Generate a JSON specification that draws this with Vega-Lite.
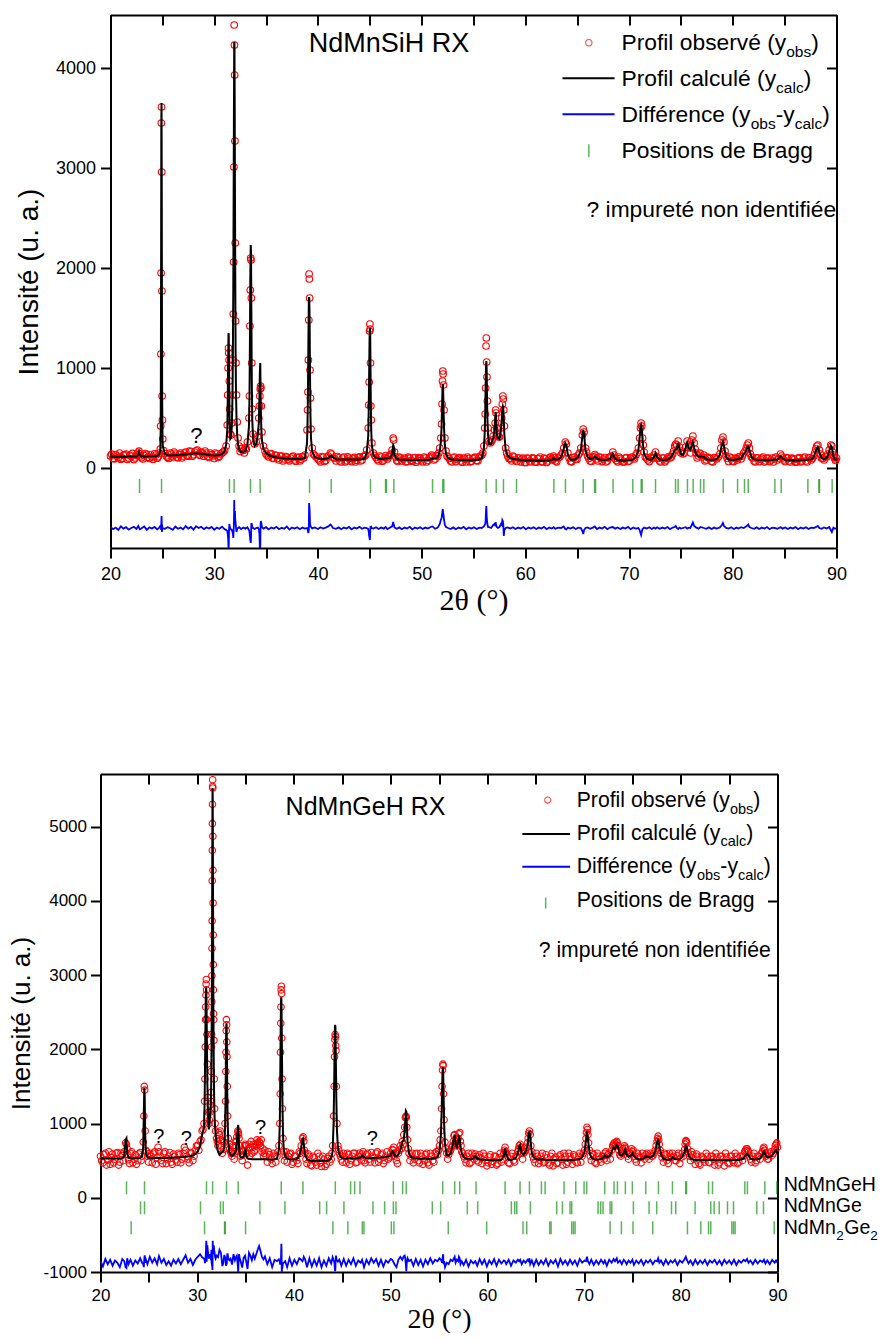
{
"$schema":"https://vega.github.io/schema/vega-lite/v6.json",
"padding":{"left":7.5,"top":14,"right":0,"bottom":0},
"config":{"view":{"stroke":null},"font":"Liberation Sans","axis":{"tickColor":"#000","domainColor":"#000","labelColor":"#000","titleColor":"#000","grid":false,"labelFont":"Liberation Sans","titleFontWeight":"normal","tickWidth":2,"domainWidth":2,"labelFlush":false,"labelOverlap":false}},
"columns":1,
"spacing":158,
"datasets":{
"pA":[
{"x":20,"o":120,"c":112,"d":-590},{"x":20.25,"o":95,"c":112,"d":-612},{"x":20.5,"o":135,"c":112,"d":-596},{"x":20.75,"o":104,"c":113,"d":-620},{"x":21,"o":88,"c":113,"d":-584},{"x":21.25,"o":128,"c":113,"d":-606},{"x":21.5,"o":140,"c":113,"d":-592},{"x":21.75,"o":99,"c":114,"d":-616},{"x":22,"o":117,"c":114,"d":-600},{"x":22.25,"o":84,"c":114,"d":-588},{"x":22.5,"o":131,"c":115,"d":-610},
{"x":22.68,"o":150,"c":130,"d":-580},{"x":22.75,"o":168,"c":158,"d":-596},{"x":22.82,"o":140,"c":130,"d":-612},
{"x":23,"o":102,"c":116,"d":-602},{"x":23.25,"o":125,"c":116,"d":-584},{"x":23.5,"o":137,"c":116,"d":-618},{"x":23.75,"o":96,"c":117,"d":-594},{"x":24,"o":112,"c":117,"d":-606},{"x":24.25,"o":142,"c":118,"d":-590},{"x":24.5,"o":98,"c":120,"d":-614},{"x":24.7,"o":150,"c":135,"d":-596},
{"x":24.8,"o":190,"c":170,"d":-580},{"x":24.84,"o":420,"c":380,"d":-600},{"x":24.86,"o":1140,"c":1000,"d":-590},{"x":24.88,"o":1950,"c":2100,"d":-620},{"x":24.9,"o":3450,"c":3400,"d":-560},{"x":24.92,"o":3610,"c":3650,"d":-480},{"x":24.94,"o":2960,"c":2900,"d":-530},{"x":24.96,"o":1770,"c":1600,"d":-640},{"x":24.98,"o":720,"c":700,"d":-600},{"x":25.01,"o":480,"c":330,"d":-590},{"x":25.04,"o":290,"c":220,"d":-604},
{"x":25.25,"o":145,"c":140,"d":-608},{"x":25.5,"o":108,"c":128,"d":-592},{"x":25.75,"o":150,"c":126,"d":-602},{"x":26,"o":112,"c":127,"d":-618},{"x":26.25,"o":139,"c":128,"d":-586},{"x":26.5,"o":102,"c":130,"d":-608},{"x":26.75,"o":148,"c":132,"d":-596},{"x":27,"o":121,"c":134,"d":-612},{"x":27.25,"o":160,"c":136,"d":-580},{"x":27.5,"o":118,"c":138,"d":-606},{"x":27.75,"o":165,"c":141,"d":-590},{"x":28,"o":132,"c":144,"d":-616},{"x":28.25,"o":172,"c":146,"d":-582},{"x":28.5,"o":140,"c":145,"d":-600},{"x":28.75,"o":158,"c":143,"d":-588},{"x":29,"o":118,"c":139,"d":-612},{"x":29.25,"o":150,"c":135,"d":-594},{"x":29.5,"o":105,"c":131,"d":-606},{"x":29.75,"o":133,"c":128,"d":-590},{"x":30,"o":95,"c":126,"d":-618},{"x":30.25,"o":140,"c":127,"d":-596},{"x":30.5,"o":118,"c":130,"d":-608},{"x":30.75,"o":150,"c":138,"d":-586},{"x":31,"o":175,"c":165,"d":-612},{"x":31.15,"o":220,"c":230,"d":-618},
{"x":31.26,"o":430,"c":380,"d":-630},{"x":31.3,"o":730,"c":650,"d":-660},{"x":31.34,"o":1000,"c":1050,"d":-700},{"x":31.38,"o":1200,"c":1350,"d":-800},{"x":31.4,"o":1150,"c":1330,"d":-790},{"x":31.43,"o":1080,"c":1000,"d":-620},{"x":31.46,"o":870,"c":650,"d":-560},{"x":31.49,"o":590,"c":450,"d":-580},{"x":31.55,"o":340,"c":290,"d":-600},{"x":31.62,"o":330,"c":300,"d":-616},{"x":31.7,"o":450,"c":420,"d":-620},{"x":31.76,"o":730,"c":700,"d":-640},{"x":31.8,"o":1080,"c":1150,"d":-660},{"x":31.84,"o":1540,"c":1800,"d":-700},{"x":31.87,"o":2060,"c":2600,"d":-640},{"x":31.9,"o":3010,"c":3500,"d":-560},{"x":31.93,"o":4430,"c":4260,"d":-320},{"x":31.95,"o":4230,"c":4250,"d":-480},{"x":31.97,"o":3930,"c":3800,"d":-460},{"x":32,"o":3270,"c":2800,"d":-430},{"x":32.03,"o":2250,"c":1900,"d":-520},{"x":32.06,"o":1470,"c":1200,"d":-540},{"x":32.1,"o":1050,"c":750,"d":-600},{"x":32.15,"o":730,"c":500,"d":-640},{"x":32.22,"o":460,"c":320,"d":-610},{"x":32.3,"o":300,"c":230,"d":-600},{"x":32.4,"o":220,"c":185,"d":-592},{"x":32.6,"o":190,"c":160,"d":-610},{"x":32.8,"o":175,"c":158,"d":-596},{"x":33,"o":200,"c":170,"d":-606},{"x":33.2,"o":260,"c":230,"d":-592},
{"x":33.35,"o":500,"c":420,"d":-620},{"x":33.4,"o":720,"c":700,"d":-640},{"x":33.44,"o":1420,"c":1200,"d":-680},{"x":33.48,"o":1780,"c":1900,"d":-720},{"x":33.52,"o":2100,"c":2230,"d":-750},{"x":33.55,"o":2080,"c":2150,"d":-700},{"x":33.58,"o":1700,"c":1600,"d":-560},{"x":33.62,"o":1050,"c":900,"d":-560},{"x":33.67,"o":590,"c":480,"d":-590},{"x":33.75,"o":340,"c":290,"d":-600},{"x":33.9,"o":240,"c":220,"d":-610},{"x":34.05,"o":260,"c":240,"d":-600},{"x":34.2,"o":320,"c":330,"d":-596},
{"x":34.3,"o":500,"c":450,"d":-610},{"x":34.36,"o":620,"c":700,"d":-660},{"x":34.4,"o":720,"c":950,"d":-800},{"x":34.44,"o":790,"c":1050,"d":-790},{"x":34.47,"o":820,"c":780,"d":-560},{"x":34.5,"o":800,"c":560,"d":-530},{"x":34.54,"o":620,"c":400,"d":-550},{"x":34.6,"o":360,"c":280,"d":-590},{"x":34.75,"o":220,"c":190,"d":-606},
{"x":35,"o":140,"c":150,"d":-592},{"x":35.25,"o":110,"c":130,"d":-614},{"x":35.5,"o":145,"c":120,"d":-596},{"x":35.75,"o":96,"c":112,"d":-606},{"x":36,"o":125,"c":106,"d":-588},{"x":36.25,"o":80,"c":102,"d":-612},{"x":36.5,"o":118,"c":99,"d":-598},{"x":36.75,"o":90,"c":96,"d":-608},{"x":37,"o":108,"c":94,"d":-586},{"x":37.25,"o":72,"c":92,"d":-616},{"x":37.5,"o":112,"c":91,"d":-596},{"x":37.75,"o":80,"c":90,"d":-606},{"x":38,"o":104,"c":90,"d":-592},{"x":38.25,"o":70,"c":90,"d":-612},{"x":38.5,"o":115,"c":92,"d":-596},{"x":38.75,"o":130,"c":102,"d":-606},
{"x":38.95,"o":380,"c":250,"d":-600},{"x":39,"o":580,"c":460,"d":-610},{"x":39.04,"o":760,"c":780,"d":-630},{"x":39.08,"o":1080,"c":1250,"d":-650},{"x":39.12,"o":1480,"c":1650,"d":-620},{"x":39.15,"o":1940,"c":1710,"d":-350},{"x":39.17,"o":1890,"c":1690,"d":-380},{"x":39.2,"o":1700,"c":1450,"d":-420},{"x":39.24,"o":980,"c":900,"d":-560},{"x":39.28,"o":700,"c":520,"d":-580},{"x":39.33,"o":390,"c":300,"d":-590},{"x":39.45,"o":200,"c":160,"d":-604},
{"x":39.7,"o":125,"c":110,"d":-594},{"x":40,"o":92,"c":96,"d":-610},{"x":40.25,"o":62,"c":92,"d":-592},{"x":40.5,"o":108,"c":90,"d":-606},{"x":40.75,"o":75,"c":92,"d":-596},{"x":41,"o":120,"c":98,"d":-584},{"x":41.2,"o":150,"c":118,"d":-565},{"x":41.3,"o":140,"c":122,"d":-575},{"x":41.45,"o":105,"c":105,"d":-600},{"x":41.75,"o":70,"c":88,"d":-608},{"x":42,"o":102,"c":86,"d":-594},{"x":42.25,"o":60,"c":85,"d":-612},{"x":42.5,"o":110,"c":85,"d":-596},{"x":42.75,"o":72,"c":84,"d":-606},{"x":43,"o":98,"c":84,"d":-590},{"x":43.25,"o":64,"c":84,"d":-614},{"x":43.5,"o":106,"c":84,"d":-596},{"x":43.75,"o":78,"c":85,"d":-606},{"x":44,"o":112,"c":86,"d":-588},{"x":44.25,"o":80,"c":88,"d":-608},{"x":44.5,"o":120,"c":96,"d":-596},{"x":44.7,"o":180,"c":150,"d":-600},
{"x":44.85,"o":400,"c":320,"d":-610},{"x":44.9,"o":630,"c":600,"d":-640},{"x":44.94,"o":860,"c":950,"d":-680},{"x":44.98,"o":1370,"c":1300,"d":-700},{"x":45.01,"o":1440,"c":1400,"d":-720},{"x":45.04,"o":1390,"c":1350,"d":-640},{"x":45.07,"o":1050,"c":1000,"d":-580},{"x":45.1,"o":620,"c":650,"d":-600},{"x":45.14,"o":480,"c":380,"d":-590},{"x":45.2,"o":250,"c":220,"d":-600},{"x":45.35,"o":150,"c":130,"d":-606},
{"x":45.6,"o":105,"c":100,"d":-592},{"x":45.85,"o":70,"c":92,"d":-610},{"x":46.1,"o":110,"c":90,"d":-596},{"x":46.35,"o":80,"c":92,"d":-606},{"x":46.52,"o":125,"c":100,"d":-590},{"x":46.7,"o":90,"c":95,"d":-612},{"x":46.95,"o":130,"c":100,"d":-596},{"x":47.15,"o":180,"c":140,"d":-585},{"x":47.26,"o":300,"c":230,"d":-540},{"x":47.3,"o":280,"c":220,"d":-560},{"x":47.38,"o":160,"c":130,"d":-595},{"x":47.6,"o":75,"c":90,"d":-608},{"x":47.85,"o":108,"c":85,"d":-594},{"x":48.1,"o":70,"c":83,"d":-612},{"x":48.35,"o":100,"c":82,"d":-596},{"x":48.6,"o":64,"c":82,"d":-606},{"x":48.85,"o":98,"c":81,"d":-588},{"x":49.1,"o":68,"c":81,"d":-614},{"x":49.35,"o":104,"c":81,"d":-596},{"x":49.6,"o":74,"c":80,"d":-606},{"x":49.85,"o":96,"c":80,"d":-592},{"x":50.1,"o":62,"c":80,"d":-610},{"x":50.35,"o":100,"c":80,"d":-596},{"x":50.6,"o":76,"c":81,"d":-606},{"x":50.85,"o":108,"c":85,"d":-590},{"x":51.05,"o":120,"c":95,"d":-584},{"x":51.3,"o":90,"c":95,"d":-608},{"x":51.55,"o":118,"c":110,"d":-596},{"x":51.75,"o":200,"c":170,"d":-560},
{"x":51.85,"o":300,"c":260,"d":-520},{"x":51.92,"o":440,"c":400,"d":-500},{"x":51.97,"o":640,"c":620,"d":-470},{"x":52.01,"o":870,"c":790,"d":-430},{"x":52.04,"o":970,"c":840,"d":-410},{"x":52.07,"o":940,"c":800,"d":-440},{"x":52.11,"o":830,"c":600,"d":-470},{"x":52.16,"o":580,"c":400,"d":-520},{"x":52.24,"o":300,"c":230,"d":-570},{"x":52.35,"o":170,"c":140,"d":-590},
{"x":52.55,"o":110,"c":100,"d":-600},{"x":52.8,"o":70,"c":88,"d":-610},{"x":53.05,"o":102,"c":84,"d":-594},{"x":53.3,"o":64,"c":82,"d":-612},{"x":53.55,"o":98,"c":80,"d":-596},{"x":53.8,"o":70,"c":79,"d":-606},{"x":54.05,"o":100,"c":78,"d":-588},{"x":54.3,"o":60,"c":78,"d":-614},{"x":54.55,"o":96,"c":78,"d":-596},{"x":54.8,"o":68,"c":78,"d":-606},{"x":55.05,"o":102,"c":79,"d":-592},{"x":55.3,"o":74,"c":80,"d":-610},{"x":55.55,"o":108,"c":84,"d":-596},{"x":55.8,"o":130,"c":100,"d":-600},{"x":56,"o":220,"c":190,"d":-585},
{"x":56.08,"o":400,"c":350,"d":-570},{"x":56.13,"o":540,"c":560,"d":-560},{"x":56.17,"o":800,"c":820,"d":-520},{"x":56.21,"o":1220,"c":1030,"d":-420},{"x":56.24,"o":1300,"c":1070,"d":-380},{"x":56.27,"o":1060,"c":980,"d":-480},{"x":56.3,"o":910,"c":720,"d":-520},{"x":56.34,"o":670,"c":500,"d":-560},{"x":56.4,"o":400,"c":330,"d":-590},{"x":56.5,"o":270,"c":240,"d":-592},{"x":56.7,"o":260,"c":240,"d":-600},{"x":56.9,"o":320,"c":300,"d":-570},
{"x":57.03,"o":380,"c":380,"d":-560},{"x":57.09,"o":450,"c":500,"d":-580},{"x":57.14,"o":580,"c":560,"d":-540},{"x":57.18,"o":550,"c":500,"d":-570},{"x":57.24,"o":400,"c":350,"d":-590},{"x":57.35,"o":330,"c":300,"d":-600},{"x":57.5,"o":310,"c":290,"d":-590},{"x":57.65,"o":400,"c":380,"d":-560},
{"x":57.72,"o":500,"c":480,"d":-570},{"x":57.78,"o":640,"c":590,"d":-520},{"x":57.83,"o":720,"c":620,"d":-530},{"x":57.87,"o":690,"c":610,"d":-560},{"x":57.92,"o":580,"c":480,"d":-680},{"x":57.98,"o":420,"c":330,"d":-620},{"x":58.1,"o":200,"c":180,"d":-600},
{"x":58.3,"o":120,"c":120,"d":-594},{"x":58.55,"o":92,"c":100,"d":-606},{"x":58.8,"o":118,"c":92,"d":-592},{"x":59.05,"o":80,"c":88,"d":-610},{"x":59.3,"o":100,"c":84,"d":-596},{"x":59.55,"o":62,"c":80,"d":-606},{"x":59.8,"o":98,"c":78,"d":-590},{"x":60.05,"o":56,"c":76,"d":-612},{"x":60.3,"o":94,"c":75,"d":-596},{"x":60.55,"o":60,"c":74,"d":-606},{"x":60.8,"o":96,"c":74,"d":-592},{"x":61.05,"o":58,"c":73,"d":-610},{"x":61.3,"o":92,"c":73,"d":-596},{"x":61.55,"o":62,"c":73,"d":-606},{"x":61.8,"o":100,"c":73,"d":-588},{"x":62.05,"o":56,"c":74,"d":-612},{"x":62.3,"o":98,"c":76,"d":-596},{"x":62.55,"o":90,"c":80,"d":-606},{"x":62.72,"o":120,"c":100,"d":-592},{"x":62.9,"o":70,"c":82,"d":-608},{"x":63.15,"o":100,"c":85,"d":-596},{"x":63.45,"o":130,"c":110,"d":-600},{"x":63.7,"o":200,"c":190,"d":-585},{"x":63.85,"o":260,"c":250,"d":-610},{"x":63.95,"o":240,"c":230,"d":-615},{"x":64.1,"o":150,"c":130,"d":-596},{"x":64.35,"o":68,"c":85,"d":-606},{"x":64.6,"o":102,"c":80,"d":-592},{"x":64.85,"o":90,"c":90,"d":-610},{"x":65.1,"o":130,"c":110,"d":-596},{"x":65.35,"o":200,"c":180,"d":-600},{"x":65.5,"o":330,"c":320,"d":-630},{"x":65.58,"o":390,"c":380,"d":-660},{"x":65.66,"o":360,"c":340,"d":-620},{"x":65.8,"o":200,"c":180,"d":-600},{"x":66,"o":120,"c":110,"d":-594},{"x":66.25,"o":70,"c":90,"d":-608},{"x":66.5,"o":110,"c":95,"d":-596},{"x":66.7,"o":135,"c":115,"d":-584},{"x":66.9,"o":90,"c":95,"d":-610},{"x":67.15,"o":110,"c":85,"d":-596},{"x":67.4,"o":64,"c":80,"d":-606},{"x":67.65,"o":104,"c":80,"d":-588},{"x":67.9,"o":70,"c":82,"d":-612},{"x":68.15,"o":110,"c":90,"d":-596},{"x":68.43,"o":160,"c":140,"d":-590},{"x":68.65,"o":95,"c":90,"d":-606},{"x":68.9,"o":62,"c":78,"d":-594},{"x":69.15,"o":96,"c":76,"d":-610},{"x":69.4,"o":60,"c":75,"d":-596},{"x":69.65,"o":98,"c":76,"d":-606},{"x":69.9,"o":66,"c":78,"d":-588},{"x":70.15,"o":100,"c":80,"d":-612},{"x":70.4,"o":100,"c":88,"d":-596},{"x":70.65,"o":130,"c":110,"d":-606},{"x":70.9,"o":200,"c":180,"d":-600},{"x":71.02,"o":300,"c":310,"d":-620},{"x":71.1,"o":400,"c":410,"d":-650},{"x":71.16,"o":450,"c":430,"d":-670},{"x":71.22,"o":420,"c":400,"d":-640},{"x":71.3,"o":300,"c":280,"d":-610},{"x":71.45,"o":160,"c":140,"d":-596},{"x":71.7,"o":100,"c":95,"d":-606},{"x":71.95,"o":64,"c":82,"d":-592},{"x":72.2,"o":104,"c":85,"d":-610},{"x":72.4,"o":130,"c":110,"d":-596},{"x":72.55,"o":160,"c":150,"d":-606},{"x":72.7,"o":110,"c":110,"d":-594},{"x":72.95,"o":70,"c":84,"d":-608},{"x":73.2,"o":100,"c":80,"d":-596},{"x":73.45,"o":62,"c":80,"d":-606},{"x":73.7,"o":98,"c":85,"d":-590},{"x":73.95,"o":100,"c":100,"d":-612},{"x":74.2,"o":140,"c":130,"d":-596},{"x":74.4,"o":220,"c":180,"d":-590},{"x":74.5,"o":240,"c":185,"d":-580},{"x":74.6,"o":230,"c":190,"d":-600},{"x":74.73,"o":270,"c":250,"d":-610},{"x":74.85,"o":210,"c":200,"d":-596},{"x":75,"o":150,"c":140,"d":-606},{"x":75.2,"o":140,"c":130,"d":-600},{"x":75.45,"o":210,"c":200,"d":-592},{"x":75.6,"o":270,"c":255,"d":-606},{"x":75.75,"o":230,"c":200,"d":-596},{"x":75.9,"o":200,"c":180,"d":-600},{"x":76.05,"o":280,"c":230,"d":-570},{"x":76.15,"o":320,"c":260,"d":-545},{"x":76.28,"o":250,"c":200,"d":-580},{"x":76.45,"o":150,"c":140,"d":-594},{"x":76.7,"o":120,"c":110,"d":-606},{"x":76.9,"o":140,"c":115,"d":-590},{"x":77.2,"o":130,"c":110,"d":-600},{"x":77.45,"o":80,"c":88,"d":-608},{"x":77.7,"o":102,"c":82,"d":-594},{"x":77.95,"o":68,"c":80,"d":-610},{"x":78.2,"o":104,"c":82,"d":-596},{"x":78.45,"o":90,"c":90,"d":-606},{"x":78.75,"o":140,"c":130,"d":-596},{"x":78.95,"o":280,"c":240,"d":-570},{"x":79.05,"o":310,"c":265,"d":-550},{"x":79.15,"o":260,"c":220,"d":-580},{"x":79.35,"o":120,"c":110,"d":-600},{"x":79.6,"o":66,"c":84,"d":-606},{"x":79.85,"o":100,"c":80,"d":-592},{"x":80.1,"o":64,"c":80,"d":-610},{"x":80.35,"o":96,"c":84,"d":-596},{"x":80.55,"o":110,"c":95,"d":-606},{"x":80.8,"o":90,"c":95,"d":-592},{"x":81.05,"o":150,"c":140,"d":-600},{"x":81.2,"o":170,"c":155,"d":-590},{"x":81.4,"o":230,"c":205,"d":-575},{"x":81.5,"o":250,"c":215,"d":-565},{"x":81.6,"o":200,"c":180,"d":-590},{"x":81.8,"o":110,"c":110,"d":-600},{"x":82.05,"o":70,"c":86,"d":-608},{"x":82.3,"o":102,"c":82,"d":-594},{"x":82.55,"o":64,"c":80,"d":-610},{"x":82.8,"o":98,"c":79,"d":-596},{"x":83.05,"o":60,"c":78,"d":-606},{"x":83.3,"o":96,"c":78,"d":-590},{"x":83.55,"o":64,"c":78,"d":-612},{"x":83.8,"o":100,"c":80,"d":-596},{"x":84.05,"o":100,"c":86,"d":-600},{"x":84.3,"o":80,"c":84,"d":-608},{"x":84.6,"o":140,"c":120,"d":-592},{"x":84.8,"o":100,"c":95,"d":-606},{"x":85.05,"o":66,"c":80,"d":-594},{"x":85.3,"o":98,"c":78,"d":-610},{"x":85.55,"o":60,"c":77,"d":-596},{"x":85.8,"o":94,"c":76,"d":-606},{"x":86.05,"o":58,"c":76,"d":-590},{"x":86.3,"o":96,"c":76,"d":-612},{"x":86.55,"o":62,"c":77,"d":-596},{"x":86.8,"o":100,"c":78,"d":-606},{"x":87.05,"o":70,"c":80,"d":-592},{"x":87.3,"o":104,"c":86,"d":-610},{"x":87.55,"o":80,"c":88,"d":-596},{"x":87.8,"o":120,"c":105,"d":-600},{"x":88,"o":190,"c":170,"d":-592},{"x":88.2,"o":230,"c":210,"d":-580},{"x":88.35,"o":180,"c":160,"d":-600},{"x":88.55,"o":100,"c":100,"d":-608},{"x":88.8,"o":80,"c":88,"d":-594},{"x":89.05,"o":110,"c":100,"d":-606},{"x":89.3,"o":180,"c":170,"d":-590},{"x":89.45,"o":230,"c":225,"d":-620},{"x":89.55,"o":220,"c":210,"d":-640},{"x":89.7,"o":130,"c":120,"d":-596},{"x":89.85,"o":90,"c":85,"d":-608},{"x":90,"o":100,"c":80,"d":-600}
],
"qA":[{"x":20.12,"o":138},{"x":20.37,"o":92},{"x":20.62,"o":120},{"x":20.87,"o":150},{"x":21.12,"o":98},{"x":21.37,"o":132},{"x":21.62,"o":85},{"x":21.87,"o":125},{"x":22.12,"o":146},{"x":22.37,"o":100},{"x":22.6,"o":128},{"x":22.9,"o":120},{"x":23.12,"o":90},{"x":23.37,"o":145},{"x":23.62,"o":108},{"x":23.87,"o":135},{"x":24.12,"o":88},{"x":24.37,"o":130},{"x":24.6,"o":112},{"x":25.12,"o":175},{"x":25.37,"o":120},{"x":25.62,"o":95},{"x":25.87,"o":140},{"x":26.12,"o":160},{"x":26.37,"o":110},{"x":26.62,"o":135},{"x":26.87,"o":100},{"x":27.12,"o":150},{"x":27.37,"o":125},{"x":27.62,"o":170},{"x":27.87,"o":118},{"x":28.12,"o":160},{"x":28.37,"o":180},{"x":28.62,"o":128},{"x":28.87,"o":150},{"x":29.12,"o":170},{"x":29.37,"o":115},{"x":29.62,"o":150},{"x":29.87,"o":120},{"x":30.12,"o":150},{"x":30.37,"o":105},{"x":30.62,"o":140},{"x":30.87,"o":160},{"x":32.5,"o":165},{"x":32.7,"o":200},{"x":32.9,"o":150},{"x":33.1,"o":190},{"x":34.9,"o":170},{"x":35.12,"o":125},{"x":35.37,"o":140},{"x":35.62,"o":100},{"x":35.87,"o":130},{"x":36.12,"o":95},{"x":36.37,"o":120},{"x":36.62,"o":70},{"x":36.87,"o":115},{"x":37.12,"o":85},{"x":37.37,"o":100},{"x":37.62,"o":120},{"x":37.87,"o":68},{"x":38.12,"o":110},{"x":38.37,"o":85},{"x":38.62,"o":100},{"x":39.57,"o":140},{"x":39.85,"o":110},{"x":40.12,"o":80},{"x":40.37,"o":115},{"x":40.62,"o":65},{"x":40.87,"o":110},{"x":41.6,"o":95},{"x":41.87,"o":115},{"x":42.12,"o":70},{"x":42.37,"o":100},{"x":42.62,"o":60},{"x":42.87,"o":112},{"x":43.12,"o":80},{"x":43.37,"o":95},{"x":43.62,"o":60},{"x":43.87,"o":105},{"x":44.12,"o":70},{"x":44.37,"o":115},{"x":44.6,"o":130},{"x":45.47,"o":125},{"x":45.72,"o":85},{"x":45.97,"o":120},{"x":46.22,"o":68},{"x":46.45,"o":105},{"x":46.82,"o":112},{"x":47.05,"o":140},{"x":47.5,"o":110},{"x":47.72,"o":65},{"x":47.97,"o":100},{"x":48.22,"o":90},{"x":48.47,"o":60},{"x":48.72,"o":108},{"x":48.97,"o":75},{"x":49.22,"o":100},{"x":49.47,"o":58},{"x":49.72,"o":105},{"x":49.97,"o":80},{"x":50.22,"o":110},{"x":50.47,"o":60},{"x":50.72,"o":100},{"x":50.95,"o":130},{"x":51.17,"o":80},{"x":51.42,"o":125},{"x":51.65,"o":150},{"x":52.45,"o":120},{"x":52.67,"o":95},{"x":52.92,"o":60},{"x":53.17,"o":110},{"x":53.42,"o":85},{"x":53.67,"o":105},{"x":53.92,"o":58},{"x":54.17,"o":90},{"x":54.42,"o":110},{"x":54.67,"o":60},{"x":54.92,"o":95},{"x":55.17,"o":110},{"x":55.42,"o":70},{"x":55.67,"o":120},{"x":55.9,"o":150},{"x":56.6,"o":250},{"x":56.8,"o":280},{"x":57.42,"o":310},{"x":58.2,"o":150},{"x":58.42,"o":95},{"x":58.67,"o":70},{"x":58.92,"o":110},{"x":59.17,"o":65},{"x":59.42,"o":100},{"x":59.67,"o":90},{"x":59.92,"o":55},{"x":60.17,"o":100},{"x":60.42,"o":70},{"x":60.67,"o":102},{"x":60.92,"o":60},{"x":61.17,"o":95},{"x":61.42,"o":110},{"x":61.67,"o":62},{"x":61.92,"o":92},{"x":62.17,"o":70},{"x":62.42,"o":108},{"x":62.62,"o":80},{"x":62.8,"o":105},{"x":63.02,"o":62},{"x":63.3,"o":110},{"x":63.57,"o":150},{"x":64.22,"o":100},{"x":64.47,"o":62},{"x":64.72,"o":108},{"x":64.97,"o":85},{"x":65.22,"o":150},{"x":65.9,"o":160},{"x":66.12,"o":95},{"x":66.37,"o":65},{"x":66.6,"o":110},{"x":66.8,"o":120},{"x":67.02,"o":70},{"x":67.27,"o":105},{"x":67.52,"o":90},{"x":67.77,"o":60},{"x":68.02,"o":100},{"x":68.28,"o":120},{"x":68.55,"o":130},{"x":68.77,"o":75},{"x":69.02,"o":110},{"x":69.27,"o":80},{"x":69.52,"o":62},{"x":69.77,"o":105},{"x":70.02,"o":70},{"x":70.27,"o":110},{"x":70.52,"o":90},{"x":70.77,"o":150},{"x":71.37,"o":230},{"x":71.57,"o":110},{"x":71.82,"o":80},{"x":72.07,"o":110},{"x":72.3,"o":95},{"x":72.82,"o":95},{"x":73.07,"o":60},{"x":73.32,"o":100},{"x":73.57,"o":80},{"x":73.82,"o":115},{"x":74.07,"o":110},{"x":74.3,"o":170},{"x":75.1,"o":170},{"x":75.32,"o":150},{"x":75.95,"o":150},{"x":76.37,"o":190},{"x":76.57,"o":100},{"x":76.8,"o":150},{"x":77.05,"o":110},{"x":77.32,"o":70},{"x":77.57,"o":108},{"x":77.82,"o":95},{"x":78.07,"o":60},{"x":78.32,"o":100},{"x":78.6,"o":110},{"x":78.85,"o":200},{"x":79.25,"o":170},{"x":79.47,"o":95},{"x":79.72,"o":110},{"x":79.97,"o":70},{"x":80.22,"o":100},{"x":80.45,"o":80},{"x":80.67,"o":115},{"x":80.92,"o":120},{"x":81.3,"o":200},{"x":81.7,"o":140},{"x":81.92,"o":100},{"x":82.17,"o":62},{"x":82.42,"o":100},{"x":82.67,"o":85},{"x":82.92,"o":110},{"x":83.17,"o":70},{"x":83.42,"o":100},{"x":83.67,"o":80},{"x":83.92,"o":60},{"x":84.17,"o":110},{"x":84.45,"o":95},{"x":84.7,"o":120},{"x":84.92,"o":80},{"x":85.17,"o":105},{"x":85.42,"o":70},{"x":85.67,"o":100},{"x":85.92,"o":85},{"x":86.17,"o":62},{"x":86.42,"o":105},{"x":86.67,"o":70},{"x":86.92,"o":110},{"x":87.17,"o":60},{"x":87.42,"o":100},{"x":87.67,"o":95},{"x":87.9,"o":150},{"x":88.1,"o":220},{"x":88.45,"o":140},{"x":88.67,"o":95},{"x":88.92,"o":115},{"x":89.17,"o":140},{"x":89.62,"o":160},{"x":89.77,"o":110},{"x":89.92,"o":75}],
"tA":[{"x":22.8},{"x":24.92},{"x":31.47},{"x":31.92},{"x":33.5},{"x":34.43},{"x":39.19},{"x":41.28},{"x":45.07},{"x":46.52},{"x":46.6},{"x":47.32},{"x":51.05},{"x":52.04},{"x":52.14},{"x":56.22},{"x":57.19},{"x":57.89},{"x":59.15},{"x":62.75},{"x":63.87},{"x":65.58},{"x":66.67},{"x":66.77},{"x":68.46},{"x":70.36},{"x":71.17},{"x":71.26},{"x":72.55},{"x":74.48},{"x":74.73},{"x":75.63},{"x":76.18},{"x":76.89},{"x":77.21},{"x":79.08},{"x":80.46},{"x":81.13},{"x":81.49},{"x":84.06},{"x":84.67},{"x":87.24},{"x":88.3},{"x":88.36},{"x":89.58}],
"pB":[
{"x":20,"o":560,"c":530,"d":-855},{"x":20.25,"o":470,"c":530,"d":-925},{"x":20.5,"o":600,"c":530,"d":-825},{"x":20.75,"o":505,"c":530,"d":-895},{"x":21,"o":450,"c":530,"d":-835},{"x":21.25,"o":590,"c":530,"d":-915},{"x":21.5,"o":520,"c":530,"d":-845},{"x":21.75,"o":610,"c":530,"d":-875},{"x":22,"o":480,"c":530,"d":-935},{"x":22.25,"o":570,"c":532,"d":-825},{"x":22.45,"o":620,"c":560,"d":-855},{"x":22.6,"o":740,"c":780,"d":-935},{"x":22.68,"o":720,"c":800,"d":-945},{"x":22.76,"o":660,"c":600,"d":-815},{"x":22.9,"o":510,"c":540,"d":-895},{"x":23.1,"o":600,"c":532,"d":-835},{"x":23.35,"o":470,"c":532,"d":-915},{"x":23.6,"o":580,"c":533,"d":-845},{"x":23.85,"o":500,"c":533,"d":-885},{"x":24.1,"o":610,"c":535,"d":-815},{"x":24.3,"o":560,"c":560,"d":-875},{"x":24.42,"o":750,"c":700,"d":-895},{"x":24.48,"o":1100,"c":1150,"d":-935},{"x":24.53,"o":1500,"c":1480,"d":-815},{"x":24.57,"o":1450,"c":1380,"d":-775},{"x":24.62,"o":900,"c":850,"d":-875},{"x":24.7,"o":640,"c":600,"d":-835},{"x":24.85,"o":560,"c":545,"d":-895},{"x":25.1,"o":600,"c":536,"d":-795},{"x":25.35,"o":470,"c":535,"d":-875},{"x":25.6,"o":620,"c":535,"d":-815},{"x":25.85,"o":540,"c":535,"d":-895},{"x":26.05,"o":620,"c":536,"d":-785},{"x":26.3,"o":500,"c":536,"d":-875},{"x":26.55,"o":600,"c":537,"d":-825},{"x":26.8,"o":460,"c":537,"d":-905},{"x":27.05,"o":560,"c":538,"d":-855},{"x":27.3,"o":480,"c":538,"d":-915},{"x":27.55,"o":590,"c":540,"d":-835},{"x":27.8,"o":510,"c":541,"d":-885},{"x":28.05,"o":600,"c":543,"d":-825},{"x":28.3,"o":470,"c":545,"d":-895},{"x":28.55,"o":600,"c":548,"d":-835},{"x":28.8,"o":640,"c":552,"d":-775},{"x":29.05,"o":520,"c":556,"d":-875},{"x":29.3,"o":610,"c":562,"d":-825},{"x":29.55,"o":500,"c":570,"d":-905},{"x":29.8,"o":640,"c":590,"d":-835},{"x":30.05,"o":700,"c":620,"d":-795},{"x":30.3,"o":760,"c":700,"d":-760},{"x":30.5,"o":900,"c":850,"d":-800},
{"x":30.7,"o":1000,"c":950,"d":-820},{"x":30.76,"o":1300,"c":1250,"d":-840},{"x":30.8,"o":1600,"c":1650,"d":-880},{"x":30.83,"o":2030,"c":2050,"d":-850},{"x":30.86,"o":2400,"c":2450,"d":-820},{"x":30.88,"o":2570,"c":2650,"d":-780},{"x":30.9,"o":2730,"c":2780,"d":-720},{"x":30.92,"o":2880,"c":2830,"d":-640},{"x":30.94,"o":2940,"c":2800,"d":-580},{"x":30.96,"o":2800,"c":2650,"d":-620},{"x":30.98,"o":2400,"c":2400,"d":-860},{"x":31.01,"o":2200,"c":2000,"d":-700},{"x":31.05,"o":1800,"c":1550,"d":-640},{"x":31.1,"o":1350,"c":1200,"d":-720},{"x":31.15,"o":1150,"c":1000,"d":-760},{"x":31.2,"o":1000,"c":920,"d":-820},{"x":31.25,"o":1050,"c":960,"d":-780},{"x":31.3,"o":1150,"c":1060,"d":-760},{"x":31.35,"o":1250,"c":1180,"d":-800},
{"x":31.41,"o":1300,"c":1250,"d":-820},{"x":31.43,"o":1420,"c":1390,"d":-840},{"x":31.45,"o":1700,"c":1580,"d":-760},{"x":31.47,"o":2030,"c":1840,"d":-700},{"x":31.49,"o":2200,"c":2200,"d":-870},{"x":31.51,"o":2640,"c":2694,"d":-900},{"x":31.52,"o":2990,"c":3000,"d":-880},{"x":31.53,"o":3360,"c":3406,"d":-900},{"x":31.54,"o":3730,"c":3850,"d":-930},{"x":31.55,"o":4270,"c":4291,"d":-880},{"x":31.56,"o":4680,"c":4720,"d":-900},{"x":31.57,"o":5040,"c":5143,"d":-960},{"x":31.58,"o":5300,"c":5400,"d":-960},{"x":31.59,"o":5540,"c":5520,"d":-850},{"x":31.6,"o":5630,"c":5400,"d":-640},{"x":31.61,"o":5520,"c":5143,"d":-580},{"x":31.62,"o":4870,"c":4720,"d":-720},{"x":31.63,"o":4410,"c":4291,"d":-760},{"x":31.64,"o":3970,"c":3850,"d":-740},{"x":31.65,"o":3540,"c":3406,"d":-730},{"x":31.66,"o":3140,"c":3000,"d":-740},{"x":31.67,"o":2800,"c":2694,"d":-760},{"x":31.69,"o":2480,"c":2200,"d":-700},{"x":31.71,"o":2400,"c":1800,"d":-640},{"x":31.73,"o":2120,"c":1540,"d":-660},{"x":31.76,"o":1600,"c":1300,"d":-720},{"x":31.8,"o":1200,"c":1075,"d":-740},{"x":31.85,"o":1000,"c":950,"d":-800},{"x":31.9,"o":900,"c":860,"d":-820},
{"x":32,"o":800,"c":700,"d":-780},{"x":32.15,"o":700,"c":620,"d":-800},{"x":32.3,"o":850,"c":580,"d":-700},{"x":32.45,"o":780,"c":600,"d":-740},{"x":32.6,"o":600,"c":620,"d":-920},{"x":32.7,"o":650,"c":630,"d":-880},{"x":32.8,"o":750,"c":680,"d":-770},{"x":32.88,"o":1000,"c":950,"d":-800},{"x":32.93,"o":1300,"c":1350,"d":-840},{"x":32.96,"o":1700,"c":1800,"d":-880},{"x":32.98,"o":1960,"c":2100,"d":-920},{"x":33,"o":2250,"c":2300,"d":-880},{"x":33.02,"o":2400,"c":2350,"d":-820},{"x":33.04,"o":2330,"c":2320,"d":-860},{"x":33.06,"o":2100,"c":2150,"d":-900},{"x":33.08,"o":1900,"c":1850,"d":-810},{"x":33.11,"o":1500,"c":1400,"d":-760},{"x":33.15,"o":1100,"c":1000,"d":-760},{"x":33.22,"o":800,"c":750,"d":-820},{"x":33.32,"o":650,"c":620,"d":-840},{"x":33.45,"o":620,"c":580,"d":-820},{"x":33.6,"o":560,"c":560,"d":-900},{"x":33.75,"o":680,"c":580,"d":-760},{"x":33.9,"o":620,"c":600,"d":-840},{"x":34,"o":700,"c":640,"d":-800},{"x":34.1,"o":820,"c":750,"d":-780},{"x":34.2,"o":900,"c":950,"d":-920},{"x":34.24,"o":880,"c":980,"d":-1000},{"x":34.28,"o":850,"c":850,"d":-860},{"x":34.33,"o":800,"c":680,"d":-760},{"x":34.4,"o":620,"c":580,"d":-820},{"x":34.5,"o":560,"c":545,"d":-860},{"x":34.65,"o":500,"c":540,"d":-940},{"x":34.8,"o":640,"c":560,"d":-810},{"x":34.95,"o":720,"c":640,"d":-780},{"x":35,"o":700,"c":660,"d":-820},{"x":35.06,"o":600,"c":580,"d":-850},{"x":35.2,"o":440,"c":530,"d":-960},{"x":35.35,"o":720,"c":525,"d":-740},{"x":35.5,"o":680,"c":522,"d":-780},{"x":35.65,"o":600,"c":520,"d":-840},{"x":35.8,"o":720,"c":520,"d":-760},{"x":35.95,"o":640,"c":520,"d":-820},{"x":36.1,"o":700,"c":520,"d":-760},{"x":36.25,"o":740,"c":520,"d":-700},{"x":36.4,"o":760,"c":520,"d":-650},{"x":36.55,"o":700,"c":520,"d":-720},{"x":36.7,"o":620,"c":520,"d":-800},{"x":36.85,"o":560,"c":518,"d":-830},{"x":37,"o":640,"c":518,"d":-790},{"x":37.25,"o":480,"c":515,"d":-895},{"x":37.5,"o":580,"c":515,"d":-815},{"x":37.75,"o":460,"c":515,"d":-935},{"x":38,"o":560,"c":518,"d":-835},{"x":38.25,"o":560,"c":530,"d":-855},{"x":38.45,"o":700,"c":650,"d":-830},
{"x":38.54,"o":1000,"c":1000,"d":-860},{"x":38.58,"o":1400,"c":1500,"d":-900},{"x":38.61,"o":1960,"c":2000,"d":-880},{"x":38.64,"o":2350,"c":2400,"d":-860},{"x":38.66,"o":2570,"c":2600,"d":-840},{"x":38.68,"o":2800,"c":2700,"d":-720},{"x":38.7,"o":2850,"c":2690,"d":-620},{"x":38.72,"o":2750,"c":2550,"d":-700},{"x":38.74,"o":2150,"c":2300,"d":-1000},{"x":38.77,"o":1600,"c":1850,"d":-960},{"x":38.81,"o":1200,"c":1300,"d":-940},{"x":38.87,"o":800,"c":850,"d":-880},{"x":38.95,"o":620,"c":650,"d":-875},{"x":39.1,"o":560,"c":560,"d":-855},{"x":39.3,"o":480,"c":530,"d":-935},{"x":39.55,"o":590,"c":520,"d":-815},{"x":39.8,"o":450,"c":515,"d":-915},{"x":40.05,"o":560,"c":515,"d":-835},{"x":40.3,"o":500,"c":520,"d":-895},{"x":40.55,"o":620,"c":560,"d":-815},{"x":40.75,"o":700,"c":680,"d":-835},{"x":40.88,"o":800,"c":790,"d":-855},{"x":40.95,"o":820,"c":800,"d":-835},{"x":41.02,"o":760,"c":720,"d":-795},{"x":41.15,"o":600,"c":580,"d":-825},{"x":41.35,"o":460,"c":520,"d":-935},{"x":41.6,"o":560,"c":500,"d":-815},{"x":41.85,"o":430,"c":495,"d":-925},{"x":42.1,"o":540,"c":495,"d":-835},{"x":42.35,"o":440,"c":495,"d":-915},{"x":42.6,"o":560,"c":495,"d":-815},{"x":42.85,"o":420,"c":495,"d":-935},{"x":43.1,"o":520,"c":497,"d":-845},{"x":43.35,"o":450,"c":500,"d":-915},{"x":43.6,"o":560,"c":505,"d":-815},{"x":43.85,"o":520,"c":530,"d":-885},{"x":44,"o":700,"c":620,"d":-800},
{"x":44.1,"o":1100,"c":1000,"d":-840},{"x":44.16,"o":1500,"c":1500,"d":-860},{"x":44.2,"o":1900,"c":1950,"d":-900},{"x":44.23,"o":2130,"c":2250,"d":-950},{"x":44.26,"o":2200,"c":2330,"d":-990},{"x":44.29,"o":2170,"c":2300,"d":-960},{"x":44.32,"o":2050,"c":2000,"d":-820},{"x":44.35,"o":1980,"c":1700,"d":-780},{"x":44.39,"o":1500,"c":1300,"d":-820},{"x":44.45,"o":1000,"c":900,"d":-840},{"x":44.55,"o":700,"c":680,"d":-860},{"x":44.7,"o":600,"c":580,"d":-835},{"x":44.9,"o":510,"c":540,"d":-915},{"x":45.15,"o":600,"c":530,"d":-825},{"x":45.4,"o":470,"c":528,"d":-915},{"x":45.65,"o":580,"c":528,"d":-835},{"x":45.9,"o":500,"c":530,"d":-895},{"x":46.15,"o":600,"c":530,"d":-815},{"x":46.4,"o":470,"c":532,"d":-915},{"x":46.65,"o":560,"c":535,"d":-845},{"x":46.9,"o":560,"c":545,"d":-875},{"x":47.05,"o":590,"c":570,"d":-835},{"x":47.25,"o":500,"c":545,"d":-935},{"x":47.5,"o":580,"c":535,"d":-835},{"x":47.75,"o":520,"c":535,"d":-895},{"x":48,"o":610,"c":536,"d":-815},{"x":48.25,"o":540,"c":537,"d":-875},{"x":48.5,"o":600,"c":538,"d":-825},{"x":48.75,"o":480,"c":540,"d":-915},{"x":49,"o":580,"c":542,"d":-835},{"x":49.25,"o":460,"c":545,"d":-925},{"x":49.5,"o":560,"c":548,"d":-845},{"x":49.75,"o":520,"c":555,"d":-875},{"x":50,"o":600,"c":570,"d":-825},{"x":50.15,"o":650,"c":620,"d":-835},{"x":50.25,"o":640,"c":630,"d":-855},{"x":50.4,"o":560,"c":570,"d":-895},{"x":50.6,"o":500,"c":560,"d":-935},{"x":50.8,"o":600,"c":580,"d":-835},{"x":51,"o":700,"c":640,"d":-795},{"x":51.2,"o":760,"c":750,"d":-835},{"x":51.35,"o":850,"c":780,"d":-790},{"x":51.45,"o":950,"c":900,"d":-780},{"x":51.52,"o":1080,"c":1050,"d":-820},{"x":51.58,"o":1100,"c":1170,"d":-920},{"x":51.62,"o":1080,"c":1160,"d":-990},{"x":51.67,"o":950,"c":1000,"d":-880},{"x":51.75,"o":780,"c":750,"d":-815},{"x":51.9,"o":600,"c":600,"d":-855},{"x":52.1,"o":560,"c":550,"d":-835},{"x":52.35,"o":470,"c":535,"d":-915},{"x":52.6,"o":590,"c":530,"d":-825},{"x":52.85,"o":500,"c":528,"d":-905},{"x":53.1,"o":600,"c":527,"d":-835},{"x":53.35,"o":450,"c":526,"d":-925},{"x":53.6,"o":580,"c":525,"d":-835},{"x":53.85,"o":470,"c":525,"d":-895},{"x":54.1,"o":600,"c":526,"d":-815},{"x":54.35,"o":500,"c":528,"d":-885},{"x":54.6,"o":600,"c":532,"d":-835},{"x":54.85,"o":580,"c":545,"d":-855},{"x":55.05,"o":700,"c":620,"d":-815},
{"x":55.2,"o":900,"c":850,"d":-835},{"x":55.27,"o":1200,"c":1150,"d":-855},{"x":55.32,"o":1500,"c":1450,"d":-875},{"x":55.36,"o":1720,"c":1680,"d":-835},{"x":55.4,"o":1800,"c":1760,"d":-780},{"x":55.43,"o":1780,"c":1720,"d":-760},{"x":55.47,"o":1400,"c":1400,"d":-895},{"x":55.53,"o":1050,"c":1000,"d":-855},{"x":55.62,"o":750,"c":720,"d":-935},{"x":55.8,"o":600,"c":580,"d":-875},{"x":56,"o":580,"c":570,"d":-895},{"x":56.2,"o":640,"c":600,"d":-835},{"x":56.4,"o":700,"c":700,"d":-855},{"x":56.55,"o":840,"c":820,"d":-815},{"x":56.62,"o":850,"c":850,"d":-795},{"x":56.72,"o":760,"c":720,"d":-875},{"x":56.85,"o":720,"c":680,"d":-835},{"x":56.98,"o":800,"c":760,"d":-855},{"x":57.06,"o":860,"c":820,"d":-795},{"x":57.14,"o":880,"c":794,"d":-815},{"x":57.22,"o":760,"c":700,"d":-895},{"x":57.35,"o":620,"c":600,"d":-855},{"x":57.55,"o":560,"c":545,"d":-905},{"x":57.8,"o":470,"c":530,"d":-835},{"x":58.05,"o":600,"c":525,"d":-925},{"x":58.3,"o":480,"c":522,"d":-845},{"x":58.55,"o":560,"c":530,"d":-885},{"x":58.75,"o":590,"c":560,"d":-855},{"x":58.95,"o":500,"c":528,"d":-915},{"x":59.2,"o":580,"c":518,"d":-825},{"x":59.45,"o":460,"c":515,"d":-895},{"x":59.7,"o":560,"c":512,"d":-835},{"x":59.95,"o":430,"c":510,"d":-925},{"x":60.2,"o":550,"c":508,"d":-845},{"x":60.45,"o":450,"c":507,"d":-895},{"x":60.7,"o":560,"c":506,"d":-825},{"x":60.95,"o":440,"c":506,"d":-915},{"x":61.2,"o":540,"c":507,"d":-835},{"x":61.45,"o":480,"c":510,"d":-885},{"x":61.7,"o":600,"c":560,"d":-845},{"x":61.83,"o":680,"c":660,"d":-855},{"x":61.95,"o":600,"c":580,"d":-895},{"x":62.2,"o":470,"c":512,"d":-835},{"x":62.45,"o":560,"c":510,"d":-915},{"x":62.7,"o":500,"c":520,"d":-845},{"x":62.95,"o":560,"c":540,"d":-875},{"x":63.15,"o":620,"c":600,"d":-835},{"x":63.3,"o":700,"c":690,"d":-855},{"x":63.4,"o":720,"c":713,"d":-835},{"x":63.55,"o":600,"c":600,"d":-895},{"x":63.75,"o":600,"c":580,"d":-845},{"x":63.95,"o":640,"c":620,"d":-875},{"x":64.15,"o":740,"c":700,"d":-835},{"x":64.28,"o":870,"c":860,"d":-855},{"x":64.35,"o":900,"c":900,"d":-815},{"x":64.43,"o":850,"c":820,"d":-895},{"x":64.6,"o":620,"c":600,"d":-845},{"x":64.8,"o":520,"c":540,"d":-915},{"x":65.05,"o":600,"c":520,"d":-835},{"x":65.3,"o":460,"c":515,"d":-905},{"x":65.55,"o":560,"c":520,"d":-845},{"x":65.8,"o":470,"c":515,"d":-895},{"x":66.05,"o":580,"c":512,"d":-825},{"x":66.3,"o":470,"c":510,"d":-915},{"x":66.55,"o":560,"c":510,"d":-845},{"x":66.8,"o":430,"c":508,"d":-885},{"x":67.05,"o":550,"c":508,"d":-835},{"x":67.3,"o":470,"c":508,"d":-925},{"x":67.55,"o":580,"c":508,"d":-825},{"x":67.8,"o":440,"c":508,"d":-895},{"x":68.05,"o":560,"c":508,"d":-845},{"x":68.3,"o":480,"c":508,"d":-905},{"x":68.55,"o":560,"c":508,"d":-835},{"x":68.8,"o":450,"c":510,"d":-895},{"x":69.05,"o":560,"c":512,"d":-845},{"x":69.3,"o":470,"c":515,"d":-915},{"x":69.55,"o":600,"c":525,"d":-825},{"x":69.8,"o":560,"c":545,"d":-875},{"x":70.05,"o":640,"c":620,"d":-845},{"x":70.2,"o":800,"c":780,"d":-855},{"x":70.3,"o":950,"c":893,"d":-795},{"x":70.4,"o":850,"c":800,"d":-855},{"x":70.55,"o":640,"c":620,"d":-895},{"x":70.75,"o":500,"c":540,"d":-835},{"x":71,"o":580,"c":520,"d":-905},{"x":71.25,"o":460,"c":515,"d":-845},{"x":71.5,"o":560,"c":515,"d":-895},{"x":71.75,"o":480,"c":520,"d":-835},{"x":72,"o":560,"c":540,"d":-885},{"x":72.15,"o":600,"c":570,"d":-845},{"x":72.35,"o":500,"c":545,"d":-915},{"x":72.6,"o":600,"c":560,"d":-835},{"x":72.85,"o":640,"c":620,"d":-875},{"x":73.05,"o":720,"c":680,"d":-825},{"x":73.2,"o":700,"c":660,"d":-855},{"x":73.38,"o":760,"c":713,"d":-815},{"x":73.5,"o":700,"c":690,"d":-875},{"x":73.7,"o":580,"c":580,"d":-845},{"x":73.9,"o":600,"c":570,"d":-895},{"x":74.1,"o":640,"c":600,"d":-835},{"x":74.25,"o":680,"c":650,"d":-855},{"x":74.4,"o":620,"c":580,"d":-895},{"x":74.6,"o":520,"c":550,"d":-845},{"x":74.8,"o":600,"c":565,"d":-875},{"x":75,"o":620,"c":600,"d":-835},{"x":75.15,"o":560,"c":560,"d":-905},{"x":75.4,"o":480,"c":530,"d":-845},{"x":75.65,"o":560,"c":520,"d":-885},{"x":75.9,"o":470,"c":520,"d":-835},{"x":76.15,"o":560,"c":530,"d":-905},{"x":76.4,"o":580,"c":560,"d":-845},{"x":76.6,"o":560,"c":550,"d":-875},{"x":76.85,"o":600,"c":540,"d":-835},{"x":77.1,"o":560,"c":560,"d":-895},{"x":77.35,"o":640,"c":620,"d":-845},{"x":77.55,"o":760,"c":740,"d":-855},{"x":77.66,"o":830,"c":794,"d":-815},{"x":77.78,"o":720,"c":700,"d":-875},{"x":77.95,"o":600,"c":580,"d":-845},{"x":78.2,"o":480,"c":525,"d":-905},{"x":78.45,"o":580,"c":515,"d":-835},{"x":78.7,"o":460,"c":512,"d":-895},{"x":78.95,"o":560,"c":515,"d":-845},{"x":79.15,"o":600,"c":545,"d":-875},{"x":79.4,"o":500,"c":520,"d":-835},{"x":79.65,"o":570,"c":515,"d":-905},{"x":79.9,"o":460,"c":520,"d":-845},{"x":80.15,"o":600,"c":550,"d":-875},{"x":80.4,"o":650,"c":620,"d":-825},{"x":80.52,"o":770,"c":697,"d":-795},{"x":80.62,"o":740,"c":680,"d":-835},{"x":80.8,"o":600,"c":570,"d":-885},{"x":81,"o":500,"c":530,"d":-845},{"x":81.25,"o":580,"c":515,"d":-905},{"x":81.5,"o":450,"c":510,"d":-835},{"x":81.75,"o":560,"c":508,"d":-895},{"x":82,"o":440,"c":506,"d":-845},{"x":82.25,"o":550,"c":505,"d":-885},{"x":82.5,"o":480,"c":505,"d":-835},{"x":82.75,"o":560,"c":508,"d":-905},{"x":83,"o":470,"c":510,"d":-845},{"x":83.25,"o":560,"c":512,"d":-875},{"x":83.5,"o":440,"c":508,"d":-835},{"x":83.75,"o":550,"c":505,"d":-895},{"x":84,"o":470,"c":504,"d":-845},{"x":84.25,"o":560,"c":504,"d":-905},{"x":84.5,"o":430,"c":504,"d":-835},{"x":84.75,"o":550,"c":504,"d":-885},{"x":85,"o":460,"c":505,"d":-845},{"x":85.25,"o":560,"c":506,"d":-895},{"x":85.5,"o":470,"c":508,"d":-835},{"x":85.75,"o":560,"c":508,"d":-905},{"x":86,"o":480,"c":510,"d":-845},{"x":86.25,"o":560,"c":515,"d":-875},{"x":86.5,"o":560,"c":530,"d":-835},{"x":86.7,"o":640,"c":570,"d":-855},{"x":86.85,"o":660,"c":590,"d":-825},{"x":87,"o":620,"c":570,"d":-875},{"x":87.2,"o":520,"c":530,"d":-845},{"x":87.45,"o":560,"c":515,"d":-895},{"x":87.7,"o":470,"c":515,"d":-835},{"x":87.95,"o":560,"c":520,"d":-885},{"x":88.2,"o":520,"c":530,"d":-845},{"x":88.45,"o":620,"c":580,"d":-865},{"x":88.6,"o":680,"c":620,"d":-835},{"x":88.75,"o":600,"c":580,"d":-885},{"x":88.95,"o":520,"c":540,"d":-845},{"x":89.2,"o":600,"c":550,"d":-895},{"x":89.45,"o":570,"c":570,"d":-835},{"x":89.7,"o":650,"c":620,"d":-875},{"x":89.85,"o":720,"c":640,"d":-845},{"x":90,"o":680,"c":600,"d":-875}
],
"qB":[{"x":20.12,"o":500},{"x":20.37,"o":580},{"x":20.62,"o":440},{"x":20.87,"o":620},{"x":21.12,"o":540},{"x":21.37,"o":470},{"x":21.62,"o":600},{"x":21.87,"o":440},{"x":22.12,"o":600},{"x":22.35,"o":500},{"x":22.83,"o":580},{"x":23,"o":460},{"x":23.22,"o":620},{"x":23.47,"o":520},{"x":23.72,"o":450},{"x":23.97,"o":590},{"x":24.2,"o":500},{"x":24.77,"o":620},{"x":24.97,"o":480},{"x":25.22,"o":560},{"x":25.47,"o":600},{"x":25.72,"o":450},{"x":25.95,"o":680},{"x":26.17,"o":560},{"x":26.42,"o":460},{"x":26.67,"o":620},{"x":26.92,"o":520},{"x":27.17,"o":610},{"x":27.42,"o":450},{"x":27.67,"o":560},{"x":27.92,"o":480},{"x":28.17,"o":580},{"x":28.42,"o":520},{"x":28.67,"o":680},{"x":28.92,"o":560},{"x":29.17,"o":470},{"x":29.42,"o":600},{"x":29.67,"o":560},{"x":29.92,"o":700},{"x":30.17,"o":640},{"x":30.4,"o":780},{"x":30.6,"o":920},{"x":32.08,"o":760},{"x":32.22,"o":880},{"x":32.37,"o":900},{"x":32.52,"o":700},{"x":32.65,"o":760},{"x":33.38,"o":720},{"x":33.52,"o":600},{"x":33.68,"o":700},{"x":33.82,"o":520},{"x":33.95,"o":760},{"x":34.05,"o":760},{"x":34.45,"o":700},{"x":34.58,"o":640},{"x":34.72,"o":580},{"x":34.88,"o":700},{"x":35.13,"o":600},{"x":35.28,"o":660},{"x":35.42,"o":560},{"x":35.58,"o":760},{"x":35.72,"o":680},{"x":35.88,"o":620},{"x":36.02,"o":720},{"x":36.18,"o":780},{"x":36.33,"o":720},{"x":36.48,"o":740},{"x":36.62,"o":780},{"x":36.78,"o":660},{"x":36.93,"o":600},{"x":37.12,"o":560},{"x":37.37,"o":620},{"x":37.62,"o":520},{"x":37.87,"o":600},{"x":38.12,"o":480},{"x":38.35,"o":620},{"x":39.02,"o":500},{"x":39.2,"o":620},{"x":39.42,"o":560},{"x":39.67,"o":600},{"x":39.92,"o":480},{"x":40.17,"o":560},{"x":40.42,"o":460},{"x":40.65,"o":600},{"x":41.08,"o":640},{"x":41.25,"o":520},{"x":41.47,"o":590},{"x":41.72,"o":440},{"x":41.97,"o":560},{"x":42.22,"o":480},{"x":42.47,"o":600},{"x":42.72,"o":470},{"x":42.97,"o":560},{"x":43.22,"o":420},{"x":43.47,"o":530},{"x":43.72,"o":480},{"x":43.93,"o":600},{"x":44.62,"o":650},{"x":44.8,"o":560},{"x":45.02,"o":480},{"x":45.27,"o":560},{"x":45.52,"o":600},{"x":45.77,"o":450},{"x":46.02,"o":560},{"x":46.27,"o":600},{"x":46.52,"o":480},{"x":46.77,"o":600},{"x":46.98,"o":500},{"x":47.15,"o":620},{"x":47.37,"o":470},{"x":47.62,"o":600},{"x":47.87,"o":480},{"x":48.12,"o":560},{"x":48.37,"o":470},{"x":48.62,"o":620},{"x":48.87,"o":520},{"x":49.12,"o":600},{"x":49.37,"o":500},{"x":49.62,"o":620},{"x":49.87,"o":540},{"x":50.08,"o":560},{"x":50.32,"o":680},{"x":50.5,"o":600},{"x":50.7,"o":460},{"x":50.9,"o":640},{"x":51.1,"o":660},{"x":51.28,"o":720},{"x":51.82,"o":660},{"x":52,"o":500},{"x":52.22,"o":600},{"x":52.47,"o":520},{"x":52.72,"o":600},{"x":52.97,"o":470},{"x":53.22,"o":560},{"x":53.47,"o":500},{"x":53.72,"o":600},{"x":53.97,"o":440},{"x":54.22,"o":560},{"x":54.47,"o":480},{"x":54.72,"o":620},{"x":54.95,"o":640},{"x":55.12,"o":780},{"x":55.7,"o":660},{"x":55.9,"o":520},{"x":56.1,"o":620},{"x":56.3,"o":680},{"x":56.48,"o":760},{"x":56.78,"o":700},{"x":56.92,"o":780},{"x":57.28,"o":700},{"x":57.45,"o":600},{"x":57.67,"o":520},{"x":57.92,"o":560},{"x":58.17,"o":460},{"x":58.42,"o":600},{"x":58.65,"o":520},{"x":58.85,"o":560},{"x":59.07,"o":480},{"x":59.32,"o":540},{"x":59.57,"o":600},{"x":59.82,"o":500},{"x":60.07,"o":470},{"x":60.32,"o":580},{"x":60.57,"o":490},{"x":60.82,"o":560},{"x":61.07,"o":460},{"x":61.32,"o":600},{"x":61.57,"o":520},{"x":61.77,"o":640},{"x":61.88,"o":620},{"x":62.07,"o":560},{"x":62.32,"o":460},{"x":62.57,"o":600},{"x":62.82,"o":480},{"x":63.05,"o":560},{"x":63.22,"o":660},{"x":63.48,"o":680},{"x":63.65,"o":520},{"x":63.85,"o":620},{"x":64.05,"o":680},{"x":64.22,"o":800},{"x":64.5,"o":700},{"x":64.7,"o":560},{"x":64.92,"o":470},{"x":65.17,"o":560},{"x":65.42,"o":500},{"x":65.67,"o":600},{"x":65.92,"o":480},{"x":66.17,"o":540},{"x":66.42,"o":440},{"x":66.67,"o":600},{"x":66.92,"o":520},{"x":67.17,"o":460},{"x":67.42,"o":560},{"x":67.67,"o":520},{"x":67.92,"o":600},{"x":68.17,"o":450},{"x":68.42,"o":600},{"x":68.67,"o":520},{"x":68.92,"o":580},{"x":69.17,"o":480},{"x":69.42,"o":560},{"x":69.67,"o":480},{"x":69.92,"o":600},{"x":70.12,"o":720},{"x":70.25,"o":880},{"x":70.35,"o":920},{"x":70.47,"o":740},{"x":70.65,"o":560},{"x":70.87,"o":600},{"x":71.12,"o":480},{"x":71.37,"o":600},{"x":71.62,"o":520},{"x":71.87,"o":560},{"x":72.07,"o":520},{"x":72.25,"o":620},{"x":72.47,"o":580},{"x":72.72,"o":520},{"x":72.95,"o":700},{"x":73.12,"o":740},{"x":73.3,"o":720},{"x":73.44,"o":740},{"x":73.6,"o":640},{"x":73.8,"o":560},{"x":74,"o":660},{"x":74.18,"o":700},{"x":74.33,"o":660},{"x":74.5,"o":560},{"x":74.7,"o":600},{"x":74.9,"o":660},{"x":75.08,"o":640},{"x":75.27,"o":520},{"x":75.52,"o":600},{"x":75.77,"o":540},{"x":76.02,"o":600},{"x":76.27,"o":520},{"x":76.5,"o":600},{"x":76.72,"o":520},{"x":76.97,"o":560},{"x":77.22,"o":600},{"x":77.45,"o":700},{"x":77.6,"o":800},{"x":77.72,"o":780},{"x":77.87,"o":640},{"x":78.07,"o":540},{"x":78.32,"o":600},{"x":78.57,"o":500},{"x":78.82,"o":600},{"x":79.05,"o":540},{"x":79.27,"o":560},{"x":79.52,"o":500},{"x":79.77,"o":600},{"x":80.02,"o":540},{"x":80.28,"o":560},{"x":80.46,"o":720},{"x":80.57,"o":760},{"x":80.7,"o":660},{"x":80.9,"o":560},{"x":81.12,"o":620},{"x":81.37,"o":520},{"x":81.62,"o":590},{"x":81.87,"o":460},{"x":82.12,"o":560},{"x":82.37,"o":520},{"x":82.62,"o":600},{"x":82.87,"o":480},{"x":83.12,"o":560},{"x":83.37,"o":520},{"x":83.62,"o":600},{"x":83.87,"o":440},{"x":84.12,"o":560},{"x":84.37,"o":520},{"x":84.62,"o":600},{"x":84.87,"o":470},{"x":85.12,"o":560},{"x":85.37,"o":500},{"x":85.62,"o":600},{"x":85.87,"o":460},{"x":86.12,"o":560},{"x":86.37,"o":500},{"x":86.6,"o":620},{"x":86.78,"o":660},{"x":86.93,"o":640},{"x":87.1,"o":560},{"x":87.32,"o":480},{"x":87.57,"o":600},{"x":87.82,"o":500},{"x":88.07,"o":560},{"x":88.33,"o":600},{"x":88.52,"o":660},{"x":88.67,"o":640},{"x":88.85,"o":560},{"x":89.07,"o":520},{"x":89.32,"o":620},{"x":89.57,"o":600},{"x":89.77,"o":700},{"x":89.92,"o":740}],
"tB1":[{"x":22.69},{"x":24.55},{"x":30.96},{"x":31.59},{"x":33.03},{"x":34.24},{"x":38.69},{"x":40.93},{"x":44.28},{"x":45.86},{"x":46.28},{"x":46.83},{"x":50.28},{"x":51.24},{"x":51.62},{"x":55.38},{"x":56.62},{"x":57.14},{"x":58.83},{"x":61.83},{"x":63.38},{"x":64.35},{"x":65.59},{"x":65.97},{"x":67.93},{"x":69.14},{"x":70.0},{"x":70.27},{"x":72.14},{"x":73.1},{"x":73.45},{"x":74.27},{"x":74.99},{"x":76.38},{"x":77.69},{"x":79.14},{"x":80.52},{"x":80.59},{"x":82.87},{"x":83.28},{"x":86.62},{"x":86.89},{"x":88.69},{"x":89.93}],
"tB2":[{"x":24.14},{"x":24.55},{"x":30.34},{"x":32.41},{"x":32.69},{"x":36.48},{"x":39.07},{"x":42.66},{"x":43.38},{"x":45.17},{"x":48.17},{"x":49.38},{"x":50.28},{"x":50.55},{"x":54.31},{"x":55.17},{"x":57.93},{"x":59.0},{"x":62.48},{"x":62.83},{"x":63.04},{"x":64.45},{"x":67.17},{"x":67.76},{"x":68.55},{"x":68.72},{"x":71.45},{"x":71.72},{"x":71.96},{"x":72.69},{"x":72.86},{"x":75.1},{"x":76.72},{"x":77.51},{"x":79.04},{"x":79.48},{"x":81.48},{"x":83.1},{"x":83.45},{"x":83.97},{"x":84.83},{"x":85.45},{"x":87.86},{"x":88.55}],
"tB3":[{"x":23.17},{"x":30.76},{"x":32.83},{"x":32.9},{"x":35.0},{"x":44.03},{"x":45.58},{"x":47.07},{"x":47.24},{"x":50.07},{"x":50.34},{"x":55.96},{"x":59.93},{"x":63.69},{"x":64.07},{"x":66.45},{"x":66.59},{"x":68.72},{"x":68.9},{"x":69.07},{"x":72.69},{"x":73.86},{"x":75.06},{"x":77.1},{"x":80.69},{"x":82.07},{"x":82.87},{"x":83.1},{"x":85.28},{"x":85.45},{"x":85.62},{"x":89.66}]
},
"concat":[
{
"width":736,"height":533,
"resolve":{"axis":{"x":"independent","y":"independent"}},
"layer":[
{"data":{"values":[{}]},
"layer":[
{"data":{"name":"pA"},"mark":{"type":"point","shape":"circle","filled":false,"color":"#ff0000","size":44,"strokeWidth":1.1,"opacity":1},
"encoding":{"x":{"field":"x","type":"quantitative","scale":{"domain":[20,90],"range":[10,736],"nice":false,"zero":false},"axis":{"values":[20,25,30,35,40,45,50,55,60,65,70,75,80,85,90],"labelExpr":"datum.value % 10 === 0 ? '' + datum.value : ''","tickSize":10,"labelFontSize":18,"labelPadding":7,"title":"2θ (°)","titleFont":"Liberation Serif","titleFontSize":30,"titlePadding":2}},
"y":{"field":"o","type":"quantitative","scale":{"domain":[-800,4530],"nice":false,"zero":false},"axis":{"values":[0,1000,2000,3000,4000],"labelExpr":"'' + datum.value","offset":-10,"tickSize":10,"labelFontSize":18,"labelPadding":5,"title":"Intensité (u. a.)","titleFontSize":28,"titlePadding":12}}}},
{"data":{"name":"qA"},"mark":{"type":"point","shape":"circle","filled":false,"color":"#ff0000","size":44,"strokeWidth":1.1,"opacity":1},"encoding":{"x":{"field":"x","type":"quantitative"},"y":{"field":"o","type":"quantitative"}}},
{"data":{"name":"pA"},"mark":{"type":"line","color":"#000000","strokeWidth":2},"encoding":{"x":{"field":"x","type":"quantitative"},"y":{"field":"c","type":"quantitative"}}},
{"data":{"name":"pA"},"mark":{"type":"line","color":"#0000ff","strokeWidth":1.8},"encoding":{"x":{"field":"x","type":"quantitative"},"y":{"field":"d","type":"quantitative"}}},
{"data":{"name":"tA"},"mark":{"type":"tick","orient":"vertical","size":14,"thickness":1.5,"color":"#169416"},"encoding":{"x":{"field":"x","type":"quantitative"},"y":{"datum":-180,"type":"quantitative"}}},
{"mark":{"type":"text","align":"left","baseline":"alphabetic","fontSize":27,"color":"#000"},"encoding":{"x":{"datum":39.12,"type":"quantitative"},"y":{"datum":4163,"type":"quantitative"},"text":{"value":"NdMnSiH RX"}}},
{"mark":{"type":"text","align":"center","baseline":"alphabetic","fontSize":22,"color":"#000"},"encoding":{"x":{"datum":28.29,"type":"quantitative"},"y":{"datum":253,"type":"quantitative"},"text":{"value":"?"}}},
{"mark":{"type":"point","shape":"circle","filled":false,"color":"#ff0000","size":40,"strokeWidth":1.1},"encoding":{"x":{"datum":66.12,"type":"quantitative"},"y":{"datum":4253,"type":"quantitative"}}},
{"mark":{"type":"rule","color":"#000000","strokeWidth":2},"encoding":{"x":{"datum":63.58,"type":"quantitative"},"x2":{"datum":68.6},"y":{"datum":3897,"type":"quantitative"}}},
{"mark":{"type":"rule","color":"#0000ff","strokeWidth":2},"encoding":{"x":{"datum":63.58,"type":"quantitative"},"x2":{"datum":68.6},"y":{"datum":3537,"type":"quantitative"}}},
{"mark":{"type":"tick","orient":"vertical","size":13,"thickness":1.5,"color":"#169416"},"encoding":{"x":{"datum":66.12,"type":"quantitative"},"y":{"datum":3173,"type":"quantitative"}}},
{"mark":{"type":"text","align":"left","baseline":"alphabetic","fontSize":22.8,"color":"#000"},"encoding":{"x":{"datum":69.27,"type":"quantitative"},"y":{"datum":4180,"type":"quantitative"},"text":{"value":"Profil observé (y"}}},
{"mark":{"type":"text","align":"left","baseline":"alphabetic","fontSize":15.5,"dx":164.7,"dy":7,"color":"#000"},"encoding":{"x":{"datum":69.27,"type":"quantitative"},"y":{"datum":4180,"type":"quantitative"},"text":{"value":"obs"}}},
{"mark":{"type":"text","align":"left","baseline":"alphabetic","fontSize":22.8,"dx":189.7,"color":"#000"},"encoding":{"x":{"datum":69.27,"type":"quantitative"},"y":{"datum":4180,"type":"quantitative"},"text":{"value":")"}}},
{"mark":{"type":"text","align":"left","baseline":"alphabetic","fontSize":22.8,"color":"#000"},"encoding":{"x":{"datum":69.27,"type":"quantitative"},"y":{"datum":3823,"type":"quantitative"},"text":{"value":"Profil calculé (y"}}},
{"mark":{"type":"text","align":"left","baseline":"alphabetic","fontSize":15.5,"dx":154.6,"dy":7,"color":"#000"},"encoding":{"x":{"datum":69.27,"type":"quantitative"},"y":{"datum":3823,"type":"quantitative"},"text":{"value":"calc"}}},
{"mark":{"type":"text","align":"left","baseline":"alphabetic","fontSize":22.8,"dx":182.2,"color":"#000"},"encoding":{"x":{"datum":69.27,"type":"quantitative"},"y":{"datum":3823,"type":"quantitative"},"text":{"value":")"}}},
{"mark":{"type":"text","align":"left","baseline":"alphabetic","fontSize":22.8,"color":"#000"},"encoding":{"x":{"datum":69.27,"type":"quantitative"},"y":{"datum":3463,"type":"quantitative"},"text":{"value":"Différence (y"}}},
{"mark":{"type":"text","align":"left","baseline":"alphabetic","fontSize":15.5,"dx":129.2,"dy":7,"color":"#000"},"encoding":{"x":{"datum":69.27,"type":"quantitative"},"y":{"datum":3463,"type":"quantitative"},"text":{"value":"obs"}}},
{"mark":{"type":"text","align":"left","baseline":"alphabetic","fontSize":22.8,"dx":154.2,"color":"#000"},"encoding":{"x":{"datum":69.27,"type":"quantitative"},"y":{"datum":3463,"type":"quantitative"},"text":{"value":"-y"}}},
{"mark":{"type":"text","align":"left","baseline":"alphabetic","fontSize":15.5,"dx":173.2,"dy":7,"color":"#000"},"encoding":{"x":{"datum":69.27,"type":"quantitative"},"y":{"datum":3463,"type":"quantitative"},"text":{"value":"calc"}}},
{"mark":{"type":"text","align":"left","baseline":"alphabetic","fontSize":22.8,"dx":200.8,"color":"#000"},"encoding":{"x":{"datum":69.27,"type":"quantitative"},"y":{"datum":3463,"type":"quantitative"},"text":{"value":")"}}},
{"mark":{"type":"text","align":"left","baseline":"alphabetic","fontSize":22.8,"color":"#000"},"encoding":{"x":{"datum":69.27,"type":"quantitative"},"y":{"datum":3103,"type":"quantitative"},"text":{"value":"Positions de Bragg"}}},
{"mark":{"type":"text","align":"left","baseline":"alphabetic","fontSize":22.8,"color":"#000"},"encoding":{"x":{"datum":65.9,"type":"quantitative"},"y":{"datum":2513,"type":"quantitative"},"text":{"value":"? impureté non identifiée"}}}
]},
{"data":{"values":[{"x":20,"y":0}]},"mark":{"type":"point","opacity":0},
"encoding":{"x":{"field":"x","type":"quantitative","scale":{"domain":[20,90],"range":[10,736],"nice":false,"zero":false},"axis":{"orient":"top","labels":false,"title":null,"values":[20,25,30,35,40,45,50,55,60,65,70,75,80,85,90],"tickSize":-10}},
"y":{"field":"y","type":"quantitative","scale":{"domain":[-800,4530],"nice":false,"zero":false},"axis":{"orient":"right","labels":false,"title":null,"values":[0,1000,2000,3000,4000],"tickSize":-10}}}}
]
},
{
"width":677,"height":498,
"resolve":{"axis":{"x":"independent","y":"independent"}},
"layer":[
{"data":{"values":[{}]},
"layer":[
{"data":{"name":"pB"},"mark":{"type":"point","shape":"circle","filled":false,"color":"#ff0000","size":42,"strokeWidth":1.1,"opacity":1},
"encoding":{"x":{"field":"x","type":"quantitative","scale":{"domain":[20,90],"nice":false,"zero":false},"axis":{"values":[20,25,30,35,40,45,50,55,60,65,70,75,80,85,90],"labelExpr":"datum.value % 10 === 0 ? '' + datum.value : ''","tickSize":10,"labelFontSize":17,"labelPadding":5,"title":"2θ (°)","titleFont":"Liberation Serif","titleFontSize":28,"titlePadding":2}},
"y":{"field":"o","type":"quantitative","scale":{"domain":[-1000,5708],"nice":false,"zero":false},"axis":{"values":[-1000,0,1000,2000,3000,4000,5000],"labelExpr":"'' + datum.value","tickSize":10,"labelFontSize":17,"labelPadding":4,"title":"Intensité (u. a.)","titleFontSize":26,"titlePadding":9}}}},
{"data":{"name":"qB"},"mark":{"type":"point","shape":"circle","filled":false,"color":"#ff0000","size":42,"strokeWidth":1.1,"opacity":1},"encoding":{"x":{"field":"x","type":"quantitative"},"y":{"field":"o","type":"quantitative"}}},
{"data":{"name":"pB"},"mark":{"type":"line","color":"#000000","strokeWidth":2},"encoding":{"x":{"field":"x","type":"quantitative"},"y":{"field":"c","type":"quantitative"}}},
{"data":{"name":"pB"},"mark":{"type":"line","color":"#0000ff","strokeWidth":1.8},"encoding":{"x":{"field":"x","type":"quantitative"},"y":{"field":"d","type":"quantitative"}}},
{"data":{"name":"tB1"},"mark":{"type":"tick","orient":"vertical","size":13,"thickness":1.5,"color":"#169416"},"encoding":{"x":{"field":"x","type":"quantitative"},"y":{"datum":135,"type":"quantitative"}}},
{"data":{"name":"tB2"},"mark":{"type":"tick","orient":"vertical","size":13,"thickness":1.5,"color":"#169416"},"encoding":{"x":{"field":"x","type":"quantitative"},"y":{"datum":-135,"type":"quantitative"}}},
{"data":{"name":"tB3"},"mark":{"type":"tick","orient":"vertical","size":13,"thickness":1.5,"color":"#169416"},"encoding":{"x":{"field":"x","type":"quantitative"},"y":{"datum":-405,"type":"quantitative"}}},
{"mark":{"type":"text","align":"left","baseline":"alphabetic","fontSize":25,"color":"#000"},"encoding":{"x":{"datum":39.14,"type":"quantitative"},"y":{"datum":5158,"type":"quantitative"},"text":{"value":"NdMnGeH RX"}}},
{"mark":{"type":"text","align":"center","baseline":"alphabetic","fontSize":20,"color":"#000"},"encoding":{"x":{"datum":26.03,"type":"quantitative"},"y":{"datum":740,"type":"quantitative"},"text":{"value":"?"}}},
{"mark":{"type":"text","align":"center","baseline":"alphabetic","fontSize":20,"color":"#000"},"encoding":{"x":{"datum":28.86,"type":"quantitative"},"y":{"datum":713,"type":"quantitative"},"text":{"value":"?"}}},
{"mark":{"type":"text","align":"center","baseline":"alphabetic","fontSize":20,"color":"#000"},"encoding":{"x":{"datum":36.55,"type":"quantitative"},"y":{"datum":861,"type":"quantitative"},"text":{"value":"?"}}},
{"mark":{"type":"text","align":"center","baseline":"alphabetic","fontSize":20,"color":"#000"},"encoding":{"x":{"datum":48.1,"type":"quantitative"},"y":{"datum":713,"type":"quantitative"},"text":{"value":"?"}}},
{"mark":{"type":"point","shape":"circle","filled":false,"color":"#ff0000","size":38,"strokeWidth":1.1},"encoding":{"x":{"datum":66.24,"type":"quantitative"},"y":{"datum":5357,"type":"quantitative"}}},
{"mark":{"type":"rule","color":"#000000","strokeWidth":2},"encoding":{"x":{"datum":63.62,"type":"quantitative"},"x2":{"datum":68.55},"y":{"datum":4899,"type":"quantitative"}}},
{"mark":{"type":"rule","color":"#0000ff","strokeWidth":2},"encoding":{"x":{"datum":63.62,"type":"quantitative"},"x2":{"datum":68.55},"y":{"datum":4459,"type":"quantitative"}}},
{"mark":{"type":"tick","orient":"vertical","size":11,"thickness":1.5,"color":"#169416"},"encoding":{"x":{"datum":66.03,"type":"quantitative"},"y":{"datum":3970,"type":"quantitative"}}},
{"mark":{"type":"text","align":"left","baseline":"alphabetic","fontSize":21.2,"color":"#000"},"encoding":{"x":{"datum":69.24,"type":"quantitative"},"y":{"datum":5258,"type":"quantitative"},"text":{"value":"Profil observé (y"}}},
{"mark":{"type":"text","align":"left","baseline":"alphabetic","fontSize":14.5,"dx":153.2,"dy":6.5,"color":"#000"},"encoding":{"x":{"datum":69.24,"type":"quantitative"},"y":{"datum":5258,"type":"quantitative"},"text":{"value":"obs"}}},
{"mark":{"type":"text","align":"left","baseline":"alphabetic","fontSize":21.2,"dx":176.6,"color":"#000"},"encoding":{"x":{"datum":69.24,"type":"quantitative"},"y":{"datum":5258,"type":"quantitative"},"text":{"value":")"}}},
{"mark":{"type":"text","align":"left","baseline":"alphabetic","fontSize":21.2,"color":"#000"},"encoding":{"x":{"datum":69.24,"type":"quantitative"},"y":{"datum":4822,"type":"quantitative"},"text":{"value":"Profil calculé (y"}}},
{"mark":{"type":"text","align":"left","baseline":"alphabetic","fontSize":14.5,"dx":143.7,"dy":6.5,"color":"#000"},"encoding":{"x":{"datum":69.24,"type":"quantitative"},"y":{"datum":4822,"type":"quantitative"},"text":{"value":"calc"}}},
{"mark":{"type":"text","align":"left","baseline":"alphabetic","fontSize":21.2,"dx":169.5,"color":"#000"},"encoding":{"x":{"datum":69.24,"type":"quantitative"},"y":{"datum":4822,"type":"quantitative"},"text":{"value":")"}}},
{"mark":{"type":"text","align":"left","baseline":"alphabetic","fontSize":21.2,"color":"#000"},"encoding":{"x":{"datum":69.24,"type":"quantitative"},"y":{"datum":4374,"type":"quantitative"},"text":{"value":"Différence (y"}}},
{"mark":{"type":"text","align":"left","baseline":"alphabetic","fontSize":14.5,"dx":120.2,"dy":6.5,"color":"#000"},"encoding":{"x":{"datum":69.24,"type":"quantitative"},"y":{"datum":4374,"type":"quantitative"},"text":{"value":"obs"}}},
{"mark":{"type":"text","align":"left","baseline":"alphabetic","fontSize":21.2,"dx":143.6,"color":"#000"},"encoding":{"x":{"datum":69.24,"type":"quantitative"},"y":{"datum":4374,"type":"quantitative"},"text":{"value":"-y"}}},
{"mark":{"type":"text","align":"left","baseline":"alphabetic","fontSize":14.5,"dx":161.3,"dy":6.5,"color":"#000"},"encoding":{"x":{"datum":69.24,"type":"quantitative"},"y":{"datum":4374,"type":"quantitative"},"text":{"value":"calc"}}},
{"mark":{"type":"text","align":"left","baseline":"alphabetic","fontSize":21.2,"dx":187.1,"color":"#000"},"encoding":{"x":{"datum":69.24,"type":"quantitative"},"y":{"datum":4374,"type":"quantitative"},"text":{"value":")"}}},
{"mark":{"type":"text","align":"left","baseline":"alphabetic","fontSize":21.2,"color":"#000"},"encoding":{"x":{"datum":69.24,"type":"quantitative"},"y":{"datum":3912,"type":"quantitative"},"text":{"value":"Positions de Bragg"}}},
{"mark":{"type":"text","align":"left","baseline":"alphabetic","fontSize":21.2,"color":"#000"},"encoding":{"x":{"datum":65.31,"type":"quantitative"},"y":{"datum":3248,"type":"quantitative"},"text":{"value":"? impureté non identifiée"}}},
{"mark":{"type":"text","align":"left","baseline":"alphabetic","fontSize":19.5,"color":"#000"},"encoding":{"x":{"datum":90.65,"type":"quantitative"},"y":{"datum":94,"type":"quantitative"},"text":{"value":"NdMnGeH"}}},
{"mark":{"type":"text","align":"left","baseline":"alphabetic","fontSize":19.5,"color":"#000"},"encoding":{"x":{"datum":90.65,"type":"quantitative"},"y":{"datum":-198,"type":"quantitative"},"text":{"value":"NdMnGe"}}},
{"mark":{"type":"text","align":"left","baseline":"alphabetic","fontSize":19.5,"color":"#000"},"encoding":{"x":{"datum":90.65,"type":"quantitative"},"y":{"datum":-492,"type":"quantitative"},"text":{"value":"NdMn"}}},
{"mark":{"type":"text","align":"left","baseline":"alphabetic","fontSize":13.5,"dx":52.5,"dy":5.5,"color":"#000"},"encoding":{"x":{"datum":90.65,"type":"quantitative"},"y":{"datum":-492,"type":"quantitative"},"text":{"value":"2"}}},
{"mark":{"type":"text","align":"left","baseline":"alphabetic","fontSize":19.5,"dx":60.5,"color":"#000"},"encoding":{"x":{"datum":90.65,"type":"quantitative"},"y":{"datum":-492,"type":"quantitative"},"text":{"value":"Ge"}}},
{"mark":{"type":"text","align":"left","baseline":"alphabetic","fontSize":13.5,"dx":86.5,"dy":5.5,"color":"#000"},"encoding":{"x":{"datum":90.65,"type":"quantitative"},"y":{"datum":-492,"type":"quantitative"},"text":{"value":"2"}}}
]},
{"data":{"values":[{"x":20,"y":0}]},"mark":{"type":"point","opacity":0},
"encoding":{"x":{"field":"x","type":"quantitative","scale":{"domain":[20,90],"nice":false,"zero":false},"axis":{"orient":"top","labels":false,"title":null,"values":[20,25,30,35,40,45,50,55,60,65,70,75,80,85,90],"tickSize":-10}},
"y":{"field":"y","type":"quantitative","scale":{"domain":[-1000,5708],"nice":false,"zero":false},"axis":{"orient":"right","labels":false,"title":null,"values":[-1000,0,1000,2000,3000,4000,5000],"tickSize":-10}}}}
]
}
]
}
